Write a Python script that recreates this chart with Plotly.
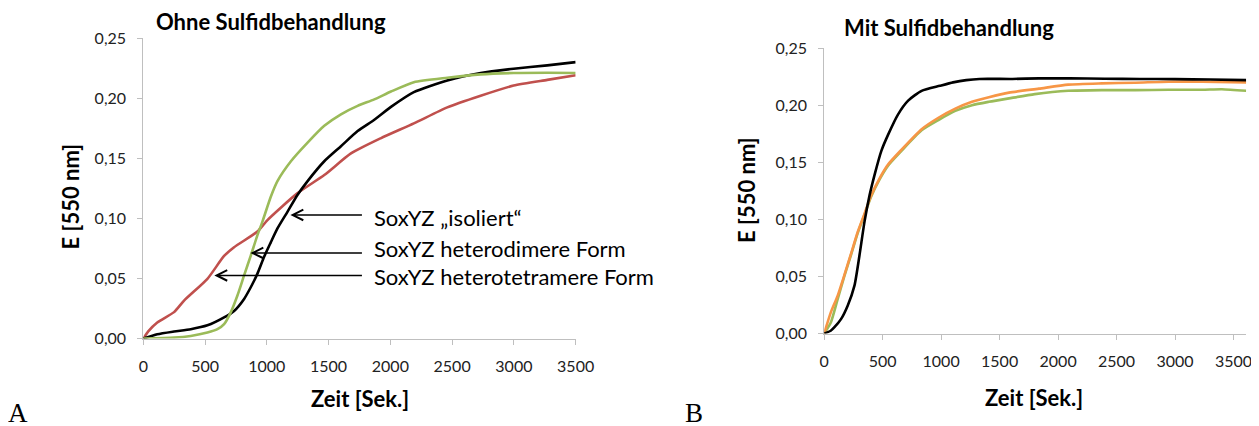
import plotly.graph_objects as go

W, H = 1259, 426

# ---------------- Data: panel A (ohne Sulfidbehandlung) ----------------
a_iso_t = [0, 113, 249, 384, 519, 654, 735, 816, 870, 924, 978, 1032, 1086, 1168, 1249,
           1330, 1465, 1600, 1735, 1870, 2005, 2190, 2461, 2731, 2998, 3270, 3500]
a_iso_v = [0, 0.0036, 0.0059, 0.0078, 0.011, 0.0176, 0.023, 0.033, 0.0427, 0.054, 0.068,
           0.080, 0.0916, 0.1056, 0.1196, 0.131, 0.1475, 0.160, 0.1726, 0.182, 0.1927,
           0.205, 0.2147, 0.2209, 0.2245, 0.2273, 0.230]

a_dim_t = [0, 249, 384, 519, 600, 654, 708, 762, 816, 870, 924, 965, 1032, 1086, 1195,
           1330, 1465, 1600, 1735, 1870, 2005, 2190, 2461, 2731, 2998, 3270, 3500]
a_dim_v = [0, 0.0008, 0.0022, 0.005, 0.0078, 0.012, 0.0218, 0.0358, 0.0525, 0.069, 0.086,
           0.0975, 0.118, 0.131, 0.1475, 0.163, 0.177, 0.1866, 0.1936, 0.199, 0.2055,
           0.2133, 0.217, 0.2198, 0.2209, 0.2211, 0.2209]

a_tet_t = [0, 40, 113, 249, 330, 519, 654, 735, 924, 1005, 1249, 1465, 1681, 1921, 2190,
           2461, 2731, 2998, 3270, 3500]
a_tet_v = [0, 0.006, 0.0134, 0.022, 0.0316, 0.0497, 0.0687, 0.076, 0.089, 0.0986, 0.121,
           0.136, 0.154, 0.1666, 0.179, 0.1923, 0.202, 0.2105, 0.2152, 0.219]

# ---------------- Data: panel B (mit Sulfidbehandlung) ----------------
b_black_t = [0, 56, 86, 144, 201, 259, 302, 345, 388, 431, 489, 546, 632, 718, 833, 989,
             1102, 1215, 1328, 1610, 1836, 2100, 2400, 2700, 3000, 3300, 3608]
b_black_v = [0, 0.0024, 0.0053, 0.0126, 0.0244, 0.042, 0.0685, 0.098, 0.121, 0.139, 0.160,
             0.174, 0.192, 0.204, 0.2126, 0.217, 0.220, 0.222, 0.223, 0.223, 0.2235,
             0.2235, 0.2232, 0.223, 0.2228, 0.2225, 0.222]

b_orange_t = [0, 57, 115, 172, 230, 287, 345, 402, 474, 546, 661, 833, 977, 1121, 1264,
              1408, 1580, 1836, 2087, 2373, 2659, 2945, 3231, 3608]
b_orange_v = [0, 0.0185, 0.033, 0.051, 0.070, 0.089, 0.105, 0.121, 0.136, 0.148, 0.161,
              0.179, 0.189, 0.197, 0.203, 0.207, 0.211, 0.2145, 0.218, 0.2191, 0.2197,
              0.2206, 0.2206, 0.220]

b_green_t = [0, 57, 115, 172, 230, 287, 345, 402, 474, 546, 661, 833, 977, 1121, 1264,
             1408, 1580, 1801, 2087, 2373, 2659, 2945, 3231, 3400, 3608]
b_green_v = [0, 0.0097, 0.030, 0.050, 0.069, 0.088, 0.104, 0.120, 0.135, 0.147, 0.160,
             0.178, 0.187, 0.195, 0.200, 0.203, 0.206, 0.2097, 0.2126, 0.2132, 0.2132,
             0.2135, 0.2135, 0.214, 0.2126]

y_ticks = [0, 0.05, 0.10, 0.15, 0.20, 0.25]
x_ticks = [0, 500, 1000, 1500, 2000, 2500, 3000, 3500]

labels = ["SoxYZ „isoliert“", "SoxYZ heterodimere Form", "SoxYZ heterotetramere Form"]
titles = ["Ohne Sulfidbehandlung", "Mit Sulfidbehandlung"]

BLACK = "#000000"
GREEN = "#9BBB59"
RED = "#C0504D"
ORANGE = "#F79646"
AXC = "#BFBFBF"
FONT = "Lato"
LW = 2.6


def line(color):
    return dict(color=color, width=LW, shape="spline", smoothing=0.6)


fig = go.Figure()

# Panel A traces (order: red, black, green)
fig.add_trace(go.Scatter(x=a_tet_t, y=a_tet_v, mode="lines", line=line(RED),
                         xaxis="x", yaxis="y", showlegend=False))
fig.add_trace(go.Scatter(x=a_iso_t, y=a_iso_v, mode="lines", line=line(BLACK),
                         xaxis="x", yaxis="y", showlegend=False))
fig.add_trace(go.Scatter(x=a_dim_t, y=a_dim_v, mode="lines", line=line(GREEN),
                         xaxis="x", yaxis="y", showlegend=False))

# Panel B traces (order: green, orange, black)
fig.add_trace(go.Scatter(x=b_green_t, y=b_green_v, mode="lines", line=line(GREEN),
                         xaxis="x2", yaxis="y2", showlegend=False))
fig.add_trace(go.Scatter(x=b_orange_t, y=b_orange_v, mode="lines", line=line(ORANGE),
                         xaxis="x2", yaxis="y2", showlegend=False))
fig.add_trace(go.Scatter(x=b_black_t, y=b_black_v, mode="lines", line=line(BLACK),
                         xaxis="x2", yaxis="y2", showlegend=False))

# Empirical mapping from target screen pixels to paper coordinates
OX, OY, SX, SY = 12.8, 21.1, 1234.0, 404.0


def px(x):
    return (x - OX) / SX


def py(y):
    return 1 - (y - OY) / SY


xcommon = dict(showgrid=False, zeroline=False, showline=True, linecolor=AXC, linewidth=1,
               ticks="outside", ticklen=5, tickcolor=AXC, tickvals=x_ticks, tickformat="d",
               ticklabelstandoff=8,
               tickfont=dict(family=FONT, size=16, color="#222"))
ycommon = dict(showgrid=False, zeroline=False, showline=True, linecolor=AXC, linewidth=1,
               ticks="outside", ticklen=5, tickcolor=AXC, tickvals=y_ticks, tickformat=".2f",
               ticklabelstandoff=8,
               range=[0, 0.25], tickfont=dict(family=FONT, size=16, color="#222"))

fig.update_layout(
    width=W, height=H, margin=dict(l=0, r=0, t=0, b=0),
    paper_bgcolor="white", plot_bgcolor="white", separators=", ",
    xaxis=dict(domain=[px(143), px(575)], range=[0, 3500], anchor="y", **xcommon),
    yaxis=dict(domain=[py(339.3), py(41)], anchor="x", **ycommon),
    xaxis2=dict(domain=[px(823.3), px(1245)], range=[0, 3608], anchor="y2", **xcommon),
    yaxis2=dict(domain=[py(334.3), py(51)], anchor="x2", **ycommon),
)

ann = []
# Titles
ann.append(dict(text=f"<b>{titles[0]}</b>", x=px(271), y=py(25), xref="paper", yref="paper",
                showarrow=False, xanchor="center", yanchor="middle",
                font=dict(family=FONT, size=22, color="black")))
ann.append(dict(text=f"<b>{titles[1]}</b>", x=px(948), y=py(31), xref="paper", yref="paper",
                showarrow=False, xanchor="center", yanchor="middle",
                font=dict(family=FONT, size=22, color="black")))
# Axis titles
for cx, cy in [(360, 399), (1033, 398)]:
    ann.append(dict(text="<b>Zeit [Sek.]</b>", x=px(cx), y=py(cy), xref="paper", yref="paper",
                    showarrow=False, xanchor="center", yanchor="middle",
                    font=dict(family=FONT, size=22, color="black")))
for cx, cy in [(70, 198), (745, 192)]:
    ann.append(dict(text="<b>E [550 nm]</b>", x=px(cx), y=py(cy), xref="paper", yref="paper",
                    showarrow=False, xanchor="center", yanchor="middle", textangle=-90,
                    font=dict(family=FONT, size=22, color="black")))
# Panel letters
ann.append(dict(text="A", x=px(18), y=py(413), xref="paper", yref="paper", showarrow=False,
                xanchor="center", yanchor="middle",
                font=dict(family="Liberation Serif", size=27, color="black")))
ann.append(dict(text="B", x=px(693), y=py(413), xref="paper", yref="paper", showarrow=False,
                xanchor="center", yanchor="middle",
                font=dict(family="Liberation Serif", size=27, color="black")))

# Arrow labels (data coordinates of panel A)
arrow_heads = [(1191, 0.1028), (867, 0.0712), (575, 0.0525)]
arrow_tail_x = 1782
text_x = 1855
text_y = [0.1004, 0.0753, 0.0514]
for (hx, hy), ty, lab in zip(arrow_heads, text_y, labels):
    ann.append(dict(x=hx, y=hy, ax=arrow_tail_x, ay=hy, xref="x", yref="y", axref="x", ayref="y",
                    text="", showarrow=True, arrowhead=5, arrowsize=1.3, arrowwidth=1.6,
                    arrowcolor="black", standoff=0, startstandoff=0))
    ann.append(dict(x=text_x, y=ty, xref="x", yref="y", text=lab, showarrow=False,
                    xanchor="left", yanchor="middle",
                    font=dict(family=FONT, size=22, color="black")))

fig.update_layout(annotations=ann)
fig.write_html("out.html")
